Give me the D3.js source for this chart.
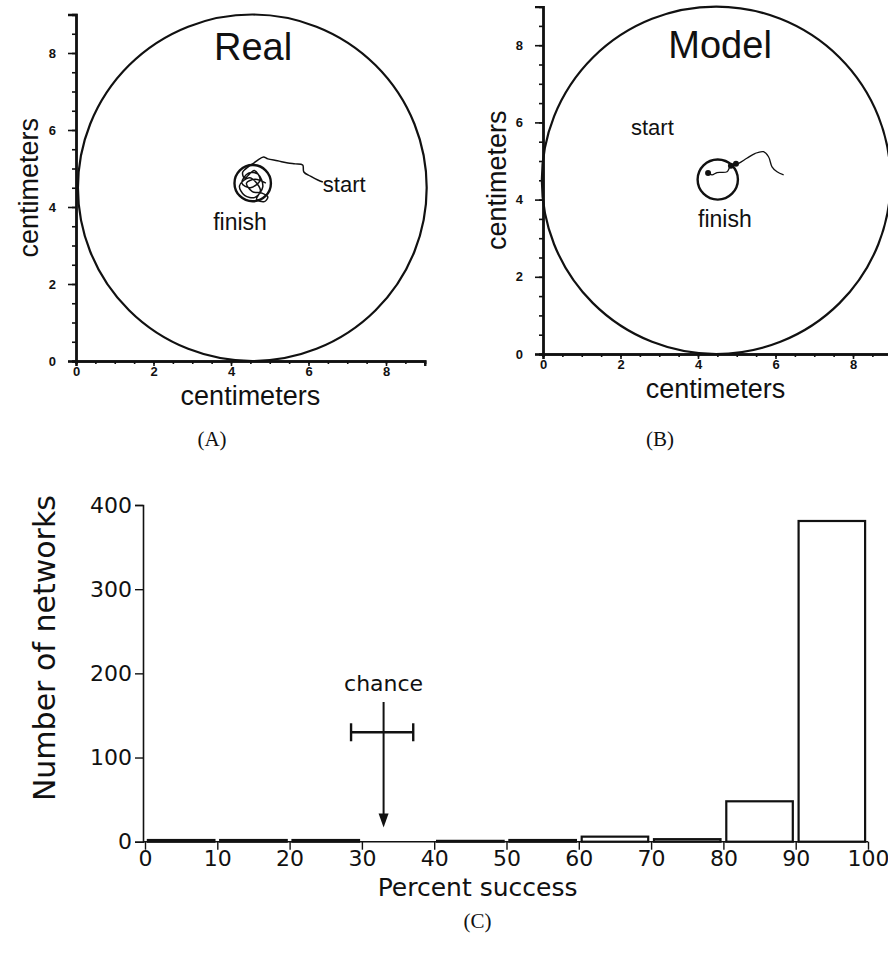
<!DOCTYPE html>
<html>
<head>
<meta charset="utf-8">
<script src="https://cdn.jsdelivr.net/npm/d3@7/dist/d3.min.js"></script>
<style>
  html, body { margin: 0; padding: 0; background: #fff; }
  svg { display: block; }
</style>
</head>
<body>
<svg id="chart" width="888" height="965"></svg>
<script>
// ---------------- DATA ----------------
const cmTicks = [0, 2, 4, 6, 8];
const cmMinorTicks = d3.range(0, 9.01, 0.5);

// arena circles: [cx, cy, r] in centimeters
const realArena = [4.55, 4.5, 4.5];
const modelArena = [4.47, 4.5, 4.5];
// goal (finish) circles: [cx, cy, r]
const realGoal = [4.56, 4.62, 0.47];
const modelGoal = [4.51, 4.52, 0.52];

// trajectories (x, y in cm)
const realPath = [
  [6.37, 4.65], [6.24, 4.70], [6.05, 4.80], [5.88, 4.91], [5.85, 5.09],
  [5.66, 5.12], [5.47, 5.14], [5.20, 5.20], [4.95, 5.25], [4.84, 5.30],
  [4.69, 5.22], [4.59, 5.14], [4.45, 5.05], [4.30, 4.90],
  [4.35, 4.75], [4.60, 4.95], [4.75, 4.70], [4.50, 4.50], [4.28, 4.62],
  [4.45, 4.88], [4.70, 4.85], [4.82, 4.52], [4.62, 4.25], [4.35, 4.30],
  [4.22, 4.55], [4.48, 4.76], [4.76, 4.44], [4.66, 4.20], [4.86, 4.14],
  [4.95, 4.26], [4.80, 4.36], [4.55, 4.40], [4.40, 4.62], [4.62, 4.72],
  [4.90, 4.62]
];
const modelPath = [
  [4.23, 4.72], [4.36, 4.64], [4.49, 4.70], [4.75, 4.72], [4.83, 4.85],
  [5.05, 4.94], [5.26, 5.07], [5.48, 5.20], [5.69, 5.24], [5.82, 5.11],
  [5.91, 4.85], [6.04, 4.72], [6.21, 4.64]
];
const modelBlobs = [[4.85, 4.88], [4.98, 4.93], [4.26, 4.69]];

// histogram
const binStarts = [0, 10, 20, 30, 40, 50, 60, 70, 80, 90];
const binWidth = 10;
const networkCounts = [2, 2, 2, 0, 1, 2, 6, 3, 48, 381];
const countTicks = [0, 100, 200, 300, 400];
const successTicks = [0, 10, 20, 30, 40, 50, 60, 70, 80, 90, 100];

// chance marker
const chanceMean = 33;
const chanceRange = [28.5, 37.1];
const chanceBarY = 130;
const chanceArrowTop = 166;
const chanceArrowTip = 17;

// ---------------- DRAW ----------------
const svg = d3.select("#chart");
const armFont = "'Liberation Sans', Arial, Helvetica, sans-serif";
const histFont = "'DejaVu Sans', Verdana, sans-serif";
const serifFont = "'Liberation Serif', 'Times New Roman', serif";

function trackPanel(o) {
  const x = d3.scaleLinear().domain([0, 9]).range([o.x0, o.x0 + 9 * o.ux]);
  const y = d3.scaleLinear().domain([0, 9]).range([o.y0, o.y0 - 9 * o.uy]);
  const g = svg.append("g");

  // arena
  g.append("ellipse")
    .attr("cx", x(o.arena[0])).attr("cy", y(o.arena[1]))
    .attr("rx", x(o.arena[2]) - x(0)).attr("ry", y(0) - y(o.arena[2]))
    .attr("fill", "none").attr("stroke", "#111").attr("stroke-width", 2.2);

  // goal
  g.append("ellipse")
    .attr("cx", x(o.goal[0])).attr("cy", y(o.goal[1]))
    .attr("rx", x(o.goal[2]) - x(0)).attr("ry", y(0) - y(o.goal[2]))
    .attr("fill", "none").attr("stroke", "#111").attr("stroke-width", 2.4);

  // path
  const line = d3.line().x(d => x(d[0])).y(d => y(d[1])).curve(d3.curveCatmullRom.alpha(0.5));
  g.append("path").datum(o.path).attr("d", line)
    .attr("fill", "none").attr("stroke", "#111").attr("stroke-width", o.pathWidth);

  if (o.blobs) {
    g.selectAll("circle.blob").data(o.blobs).enter().append("circle")
      .attr("cx", d => x(d[0])).attr("cy", d => y(d[1])).attr("r", 3).attr("fill", "#111");
  }

  // axes
  const xMinor = d3.axisBottom(x).tickValues(cmMinorTicks).tickSize(3).tickFormat("");
  const yMinor = d3.axisLeft(y).tickValues(cmMinorTicks).tickSize(4).tickFormat("");
  g.append("g").attr("transform", `translate(0,${o.y0})`).call(xMinor);
  g.append("g").attr("transform", `translate(${o.x0},0)`).call(yMinor);
  g.append("g").attr("transform", `translate(0,${o.y0})`)
    .call(d3.axisBottom(x).tickValues(cmTicks).tickSize(5).tickPadding(1).tickFormat(d3.format("d")));
  g.append("g").attr("transform", `translate(${o.x0},0)`)
    .call(d3.axisLeft(y).tickValues(cmTicks).tickSize(8).tickPadding(12).tickFormat(d3.format("d")));
  g.selectAll(".domain").attr("stroke", "#111").attr("stroke-width", 2.4);
  g.selectAll(".tick line").attr("stroke", "#111").attr("stroke-width", 1.6);
  g.selectAll(".tick text").attr("font-family", armFont).attr("font-size", 13)
    .attr("font-weight", "bold").attr("fill", "#111");

  // titles & labels
  g.append("text").attr("x", x(o.titlePos[0])).attr("y", y(o.titlePos[1]))
    .attr("text-anchor", "middle").attr("font-family", armFont).attr("font-size", 38)
    .attr("fill", "#111").text(o.title);
  g.append("text").attr("x", x(o.startPos[0])).attr("y", y(o.startPos[1]))
    .attr("font-family", armFont).attr("font-size", 22).attr("fill", "#111").text("start");
  g.append("text").attr("x", x(o.finishPos[0])).attr("y", y(o.finishPos[1]))
    .attr("font-family", armFont).attr("font-size", 23).attr("fill", "#111").text("finish");

  g.append("text").attr("x", x(o.xLabelCx)).attr("y", o.xLabelY)
    .attr("text-anchor", "middle").attr("font-family", armFont).attr("font-size", 27)
    .attr("fill", "#111").text("centimeters");
  g.append("text").attr("transform", `translate(${o.yLabelX},${y(4.5)}) rotate(-90)`)
    .attr("text-anchor", "middle").attr("font-family", armFont).attr("font-size", 27)
    .attr("fill", "#111").text("centimeters");
  g.append("text").attr("x", o.capX).attr("y", o.capY)
    .attr("text-anchor", "middle").attr("font-family", serifFont).attr("font-size", 21)
    .attr("fill", "#111").text(o.caption);
}

trackPanel({
  x0: 76, y0: 361, ux: 38.75, uy: 38.5,
  arena: realArena, goal: realGoal, path: realPath, pathWidth: 1.5,
  title: "Real", titlePos: [4.57, 7.82],
  startPos: [6.37, 4.40], finishPos: [3.54, 3.40],
  xLabelCx: 4.5, xLabelY: 405, yLabelX: 38, capX: 212, capY: 446, caption: "(A)"
});
trackPanel({
  x0: 543, y0: 354, ux: 38.75, uy: 38.6,
  arena: modelArena, goal: modelGoal, path: modelPath, blobs: modelBlobs, pathWidth: 1.3,
  title: "Model", titlePos: [4.57, 7.67],
  startPos: [2.27, 5.67], finishPos: [4.0, 3.29],
  xLabelCx: 4.45, xLabelY: 398, yLabelX: 506, capX: 660, capY: 446, caption: "(B)"
});

// ---------------- HISTOGRAM ----------------
const xC = d3.scaleLinear().domain([0, 100]).range([145, 868]);
const yC = d3.scaleLinear().domain([0, 400]).range([841.7, 505]);
const gC = svg.append("g");

gC.selectAll("rect.bar").data(binStarts).enter().append("rect")
  .attr("x", (d) => xC(d + 0.4))
  .attr("width", xC(binWidth - 0.8) - xC(0))
  .attr("y", (d, i) => yC(networkCounts[i]))
  .attr("height", (d, i) => yC(0) - yC(networkCounts[i]))
  .attr("fill", "none").attr("stroke", "#111").attr("stroke-width", 2.2)
  .attr("display", (d, i) => networkCounts[i] > 0 ? null : "none");

const xAxC = gC.append("g").attr("transform", `translate(0,${yC(0)})`)
  .call(d3.axisBottom(xC).tickValues(successTicks).tickSize(8).tickPadding(1).tickFormat(d3.format("d")));
xAxC.select(".domain").attr("d", `M${xC(0) - 2},0H${xC(100)}`);
gC.append("g").attr("transform", `translate(${xC(0) - 2},0)`)
  .call(d3.axisLeft(yC).tickValues(countTicks).tickSize(8).tickPadding(3).tickFormat(d3.format("d")));
gC.selectAll(".domain").attr("stroke", "#111").attr("stroke-width", 1.6);
gC.selectAll(".tick line").attr("stroke", "#111").attr("stroke-width", 1.4);
gC.selectAll(".tick text").attr("font-family", histFont).attr("font-size", 22).attr("fill", "#111");

gC.append("text").attr("x", xC(46)).attr("y", 896)
  .attr("text-anchor", "middle").attr("font-family", histFont).attr("font-size", 25)
  .attr("fill", "#111").text("Percent success");
gC.append("text").attr("transform", `translate(55,${yC(230)}) rotate(-90)`)
  .attr("text-anchor", "middle").attr("font-family", histFont).attr("font-size", 30)
  .attr("fill", "#111").text("Number of networks");
gC.append("text").attr("x", xC(46)).attr("y", 928)
  .attr("text-anchor", "middle").attr("font-family", serifFont).attr("font-size", 21)
  .attr("fill", "#111").text("(C)");

// chance annotation
gC.append("text").attr("x", xC(chanceMean)).attr("y", yC(179))
  .attr("text-anchor", "middle").attr("font-family", histFont).attr("font-size", 22)
  .attr("fill", "#111").text("chance");
gC.append("line")
  .attr("x1", xC(chanceMean)).attr("x2", xC(chanceMean))
  .attr("y1", yC(chanceArrowTop)).attr("y2", yC(chanceArrowTip) - 10)
  .attr("stroke", "#111").attr("stroke-width", 2);
gC.append("path")
  .attr("d", `M${xC(chanceMean) - 5},${yC(chanceArrowTip) - 14}L${xC(chanceMean) + 5},${yC(chanceArrowTip) - 14}L${xC(chanceMean)},${yC(chanceArrowTip)}Z`)
  .attr("fill", "#111");
gC.append("line")
  .attr("x1", xC(chanceRange[0])).attr("x2", xC(chanceRange[1]))
  .attr("y1", yC(chanceBarY)).attr("y2", yC(chanceBarY))
  .attr("stroke", "#111").attr("stroke-width", 2.4);
gC.selectAll("line.cap").data(chanceRange).enter().append("line")
  .attr("x1", d => xC(d)).attr("x2", d => xC(d))
  .attr("y1", yC(chanceBarY) - 9).attr("y2", yC(chanceBarY) + 9)
  .attr("stroke", "#111").attr("stroke-width", 2.4);
</script>
</body>
</html>
